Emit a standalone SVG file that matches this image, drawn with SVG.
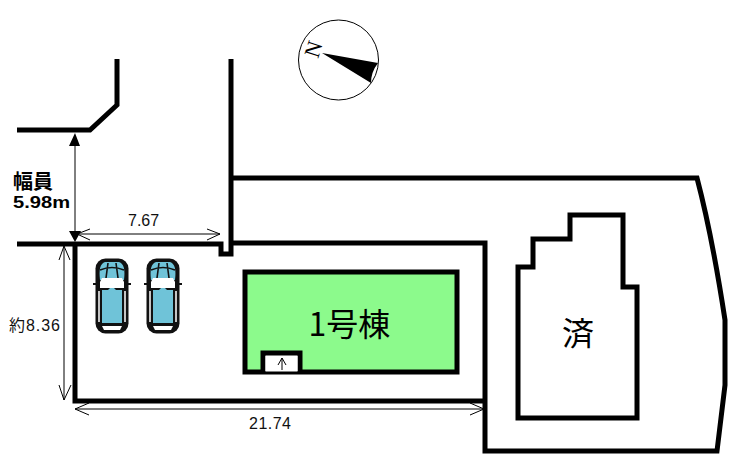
<svg xmlns="http://www.w3.org/2000/svg" width="733" height="459" viewBox="0 0 733 459">
<style>
.w{fill:none;stroke:#000;stroke-width:5}
.d{fill:none;stroke:#000;stroke-width:1}
.t{font-family:"Liberation Sans","Noto Sans CJK JP",sans-serif;font-size:16px;fill:#111}
.b{font-weight:bold;fill:#000}
.j{font-family:"Noto Sans CJK JP","Liberation Sans",sans-serif;fill:#000}
</style>
<defs>
<g id="car">
<rect x="0.500" y="0.500" width="33" height="75" rx="10" fill="#111"/>
<path d="M5 22 Q3 6 10 4 H24 Q31 6 29 22 Z" fill="#6fc3d8"/>
<path d="M11 20 L13 5 M23 20 L21 5 M5 12 Q17 7 29 12" stroke="#111" stroke-width="1.600" fill="none"/>
<path d="M7 20 H27 L29 24 V30 H5 V24 Z" fill="#fff"/>
<path d="M-2 26 H5 M29 26 H36" stroke="#111" stroke-width="2"/>
<path d="M7 32 H13 L15 30 H19 L21 32 H27 V65 H7 Z" fill="#6fc3d8"/>
<path d="M4 33 V64 M30 33 V64" stroke="#fff" stroke-width="1.500"/>
<path d="M7 68 H27 L25 72 H9 Z" fill="#fff"/>
</g>
</defs>
<rect width="733" height="459" fill="#fff"/>
<g id="compass">
<circle cx="338.500" cy="60" r="40" fill="#fff" stroke="#000" stroke-width="1"/>
<path d="M322 53 L378 63 Q371 72 371 83 Z" fill="#000"/>
<text x="0" y="0" transform="translate(318,59) rotate(-72)" style="font-family:'Liberation Serif',serif;font-size:22px">N</text>
</g>
<g id="building-1">
<rect x="245" y="272" width="212" height="100" fill="#8cfa8c" stroke="#000" stroke-width="5"/>
<path d="M263 372 V353 H300 V372" fill="#fff" stroke="#000" stroke-width="5"/>
<rect x="265.500" y="356" width="32" height="15" fill="#fff"/>
<path d="M263 372 H300" stroke="#000" stroke-width="1"/>
<path d="M282 370 V358 M278 365 L282 358 L286 365" class="d"/>
<text x="349.500" y="336" text-anchor="middle" class="j" font-size="32">1号棟</text>
</g>
<g id="building-done">
<path d="M518 267 H533 V239 H570 V215 H623 V287 H637 V418 H518 Z" class="w"/>
<text x="578" y="345" text-anchor="middle" class="j" font-size="32">済</text>
</g>
<g id="car-1"><use href="#car" x="95" y="258"/></g>
<g id="car-2"><use href="#car" x="146" y="258"/></g>
<g id="connectors">
<path d="M17 130 H90 L117 105 V59" class="w"/>
<path d="M17 244 H221 V254 H231 V59" class="w"/>
<path d="M231 178 H697 Q712 235 725 320 V385 L717 451 H485 V243 H231" class="w"/>
<path d="M75 244 V401 H485" class="w"/>
<path d="M75 145 V231" class="d"/>
<path d="M75 133 L69 146 H80 Z M75 242 L69 231 H81 Z" fill="#000"/>
<path d="M77 234 H220 M90 229 L77 234 L90 240 M207 229 L220 234 L207 240" class="d"/>
<path d="M64 246 V400 M59 260 L64 246 L70 260 M59 385 L64 400 L71 385" class="d"/>
<path d="M75 409 H484 M89 403 L75 409 L89 415 M470 403 L484 409 L470 415" class="d"/>
</g>
<g id="labels">
<text x="13" y="189" class="j b" font-size="20" font-weight="bold">幅員</text>
<text x="13" y="208" class="t b" style="font-size:17px" textLength="57" lengthAdjust="spacingAndGlyphs">5.98m</text>
<text x="128" y="226" class="t">7.67</text>
<text x="249" y="429" class="t" textLength="42">21.74</text>
<text x="9" y="331" class="t" textLength="51">約8.36</text>
</g>
</svg>
